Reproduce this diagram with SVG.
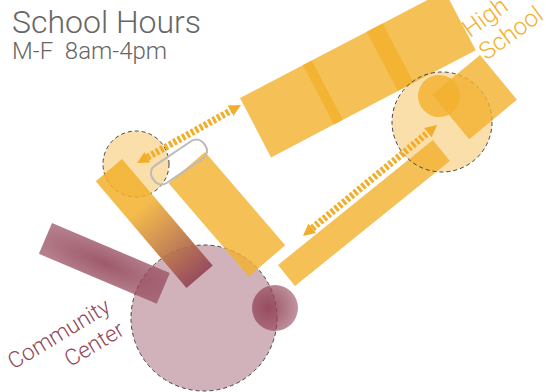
<svg xmlns="http://www.w3.org/2000/svg" width="546" height="392" viewBox="0 0 546 392">
<defs>
<style>
.y{fill:#F2B02C;fill-opacity:0.8}
.dc{stroke:#444;stroke-width:1;stroke-dasharray:4 3}
.arr{stroke:#F2AE2A;stroke-width:7;stroke-dasharray:3 2;fill:none}
.t{font-family:Roboto,"Liberation Sans",sans-serif;font-weight:300}
</style>
<marker id="ah" viewBox="0 0 10 10" refX="0" refY="5" markerWidth="12" markerHeight="13" markerUnits="userSpaceOnUse" orient="auto-start-reverse">
<path d="M0,0 L10,5 L0,10 z" fill="#F2AE2A"/>
</marker>
<linearGradient id="gr" x1="0" y1="0" x2="1" y2="0">
<stop offset="0.35" stop-color="#F2B02C" stop-opacity="0.85"/>
<stop offset="1" stop-color="#94475A" stop-opacity="0.95"/>
</linearGradient>
<radialGradient id="rb" cx="0.5" cy="0.5" r="0.6">
<stop offset="0" stop-color="#94475A" stop-opacity="0.9"/>
<stop offset="1" stop-color="#94475A" stop-opacity="0.7"/>
</radialGradient>
<radialGradient id="rs" cx="0.35" cy="0.5" r="0.7">
<stop offset="0" stop-color="#94475A" stop-opacity="0.95"/>
<stop offset="1" stop-color="#94475A" stop-opacity="0.55"/>
</radialGradient>
</defs>
<rect width="546" height="392" fill="#fff"/>

<g id="title">
<text class="t" x="12" y="33" font-size="32" fill="#666">School Hours</text>
<text class="t" x="12" y="59" font-size="24" fill="#666" xml:space="preserve">M-F  8am-4pm</text>
</g>

<g id="community-center">
<circle cx="204" cy="318" r="73" fill="#94475A" fill-opacity="0.42" class="dc"/>
<rect transform="translate(52,223) rotate(23)" width="128" height="33.5" fill="url(#rb)"/>
<circle cx="275" cy="308" r="23" fill="url(#rs)"/>
<text class="t" transform="translate(10,372) rotate(-31)" font-size="22.5" fill="#94475A" text-anchor="end"><tspan x="119" y="0">Community</tspan><tspan x="119" y="27">Center</tspan></text>
</g>

<g id="stop-left">
<circle cx="136" cy="164" r="33" fill="#F2B02C" fill-opacity="0.4" class="dc"/>
</g>

<g id="buildings">
<rect transform="translate(205,152) rotate(49.3)" width="123" height="48" class="y"/>
<rect transform="translate(122,159) rotate(49.6)" width="140" height="34.5" fill="url(#gr)"/>
<rect transform="translate(278,265) rotate(-38.9)" width="199" height="27" class="y"/>
</g>

<g id="top-block" transform="translate(240,98) rotate(-27.6)">
<rect x="0" y="0" width="81" height="67" class="y"/>
<rect x="71" y="0" width="90" height="67" class="y"/>
<rect x="143" y="0" width="88" height="67" class="y"/>
</g>

<g id="high-school">
<circle cx="442" cy="122" r="50" fill="#F2B02C" fill-opacity="0.4" class="dc"/>
<circle cx="439" cy="96" r="21" class="y"/>
<rect transform="translate(480,55) rotate(50.4)" width="58" height="62" class="y"/>
<text class="t" transform="translate(470,38) rotate(-36)" font-size="24" fill="#F2B02C"><tspan x="0" y="0">High</tspan><tspan x="0" y="28">School</tspan></text>
</g>

<g id="paperclip">
<rect transform="translate(179,162) rotate(-34)" x="-31" y="-10.5" width="62" height="21" rx="9" fill="none" stroke="#BBB" stroke-width="2"/>
</g>

<g id="connectors">
<line class="arr" x1="147.5" y1="157.2" x2="230.5" y2="110.8" marker-start="url(#ah)" marker-end="url(#ah)"/>
<line class="arr" x1="312.2" y1="228.3" x2="427.8" y2="132.7" marker-start="url(#ah)" marker-end="url(#ah)"/>
</g>
</svg>
